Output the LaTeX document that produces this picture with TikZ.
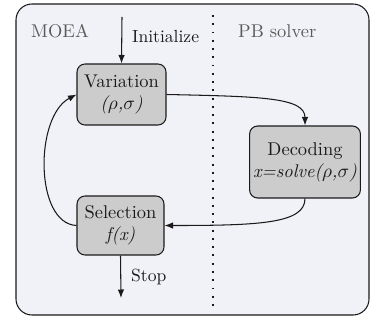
\documentclass[tikz,border=0pt]{standalone}
\usepackage{tikz}
\usetikzlibrary{arrows.meta,positioning}
\definecolor{cpanel}{HTML}{F1F2F8}
\definecolor{cbox}{HTML}{CCCCCC}
\definecolor{cink}{HTML}{1A1A1A}
\definecolor{cmuted}{HTML}{5A5A5A}

\begin{document}
\begin{tikzpicture}[
    x={(0.02cm,0cm)}, y={(0cm,-0.02cm)},
    >={Latex[length=1.7mm,width=1.3mm]},
    box/.style={draw=cink, fill=cbox, rounded corners=0.16cm, line width=0.6pt,
      align=center, text=cink, font=\fontsize{10.5}{12.5}\selectfont, inner sep=2pt},
    lbl/.style={font=\fontsize{10}{12}\selectfont, text=cink, anchor=west},
    region/.style={font=\fontsize{10.5}{12.5}\selectfont, text=cmuted, anchor=west},
    flow/.style={->, draw=cink, line width=0.6pt},
  ]
  \useasboundingbox (0,0) rectangle (371,320);
  % the panel
  \filldraw[fill=cpanel, draw=cink, line width=0.6pt, rounded corners=0.32cm]
    (16,4) rectangle (369,315);
  \draw[cink, line width=1.1pt, dash pattern=on 1.1pt off 3.6pt] (213,15) -- (213,310);
  \node[region] (moea) at (25,31) {MOEA};
  \node[region] (pb) at (232,31) {PB solver};

  % the steps
  \node[box, minimum width=1.78cm, minimum height=1.22cm] (var) at (121.5,94.5)
    {Variation\\\textit{($\rho$,$\sigma$)}};
  \node[box, minimum width=2.16cm, minimum height=1.44cm] (dec) at (305,162)
    {Decoding\\\textit{x=solve($\rho$,$\sigma$)}};
  \node[box, minimum width=1.74cm, minimum height=1.18cm] (sel) at (120.5,225.5)
    {Selection\\\textit{f(x)}};

  % start and end
  \coordinate (init) at (122,17);
  \coordinate (stop) at (121,298);
  \draw[flow] (init) -- (var.north);
  \node[lbl] (initlbl) at (126,37) {Initialize};
  \draw[flow] (sel.south) -- (stop);
  \node[lbl] (stoplbl) at (125,277) {Stop};

  % the loop
  \draw[flow] (var.east) .. controls +(95,2) and +(0,-28) .. (dec.north);
  \draw[flow] (dec.south) .. controls +(0,25) and +(95,0) .. (sel.east);
  \draw[flow] (sel.west) .. controls +(-42,-2) and +(-42,22) .. (var.west);
\end{tikzpicture}
\end{document}
